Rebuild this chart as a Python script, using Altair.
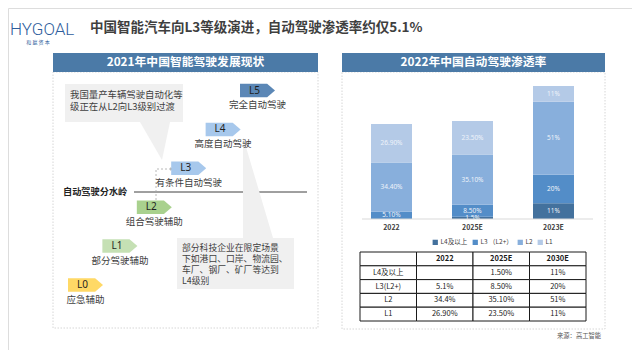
import altair as alt
import pandas as pd

FONT = "Noto Sans CJK SC"

# ---------------- data ----------------
years = ["2022", "2025E", "2030E"]
year_ticks = ["2022", "2025E", "2023E"]
segments = ["L4及以上", "L3 （L2+）", "L2", "L1"]
seg_values = [
    [0, 1.5, 11],
    [5.1, 8.5, 20],
    [34.4, 35.1, 51],
    [26.9, 23.5, 11],
]
seg_labels = [
    ["", "1.5%", "11%"],
    ["5.10%", "8.50%", "20%"],
    ["34.40%", "35.10%", "51%"],
    ["26.90%", "23.50%", "11%"],
]
table_header = ["", "2022", "2025E", "2030E"]
table_rows = ["L4及以上", "L3(L2+)", "L2", "L1"]
table_cells = [
    ["", "1.50%", "11%"],
    ["5.1%", "8.50%", "20%"],
    ["34.4%", "35.10%", "51%"],
    ["26.90%", "23.50%", "11%"],
]
levels = ["L0", "L1", "L2", "L3", "L4", "L5"]
level_names = ["应急辅助", "部分驾驶辅助", "组合驾驶辅助", "有条件自动驾驶", "高度自动驾驶", "完全自动驾驶"]
callout_top = ["我国量产车辆驾驶自动化等", "级正在从L2向L3级别过渡"]
callout_bottom = ["部分科技企业在限定场景", "下如港口、口岸、物流园、", "车厂、钢厂、矿厂等达到", "L4级别"]

# ---------------- styles ----------------
seg_colors = ["#43719d", "#538dc8", "#88afdc", "#b4cae7"]
level_colors = ["#ffd966", "#c5e0b4", "#a9d18e", "#a7c8ec", "#a7c8ec", "#5b87b6"]
HEAD = "#4b7aa7"

# image-pixel helper scales (page margin 8px)
PX = alt.Scale(domain=[0, 640], range=[-8, 632])
PY = alt.Scale(domain=[0, 358], range=[-8, 350])


def X(f="x"):
    return alt.X(f"{f}:Q", scale=PX, axis=None)


def Y(f="y"):
    return alt.Y(f"{f}:Q", scale=PY, axis=None)


def texts(rows, **kw):
    df = pd.DataFrame(rows, columns=["x", "y", "t"])
    return alt.Chart(df).mark_text(**kw).encode(x=X(), y=Y(), text="t:N")


# ---------------- decorations ----------------
fills = pd.DataFrame([
    dict(x=53, x2=318, y=53, y2=72, c=HEAD),
    dict(x=342, x2=605, y=53, y2=72, c=HEAD),
    dict(x=65, x2=183, y=84, y2=122, c="#f0f0f0"),
    dict(x=177, x2=294, y=238, y2=289, c="#f0f0f0"),
])
fill_layer = alt.Chart(fills).mark_rect().encode(
    x=X(), x2="x2", y=Y(), y2="y2", color=alt.Color("c:N", scale=None, legend=None))

borders = pd.DataFrame([
    dict(x=53, x2=318, y=72, y2=328),
    dict(x=342, x2=605, y=72, y2=329),
])
border_layer = alt.Chart(borders).mark_rect(
    filled=False, stroke="#d6d6d6", strokeWidth=1, strokeDash=[1.5, 1.5]).encode(
    x=X(), x2="x2", y=Y(), y2="y2")

tri1 = alt.Chart(pd.DataFrame([dict(y=122, x=140, x2=170), dict(y=160, x=162, x2=162)])).mark_area(
    orient="horizontal", color="#f0f0f0").encode(y=Y(), x=X(), x2="x2")
tri2 = alt.Chart(pd.DataFrame([dict(x=243, y=137, y2=238), dict(x=273, y=238, y2=238)])).mark_area(
    orient="vertical", color="#f0f0f0").encode(x=X(), y=Y(), y2="y2")

water_line = alt.Chart(pd.DataFrame([dict(x=134, x2=307, y=192)])).mark_rule(
    color="#404040", strokeWidth=1).encode(x=X(), x2="x2", y=Y())

dash_path = alt.Chart(pd.DataFrame([dict(o=0, x=156, y=204), dict(o=1, x=156, y=169), dict(o=2, x=172, y=169)])).mark_line(
    color="#a6a6a6", strokeWidth=0.8, strokeDash=[2, 2]).encode(x=X(), y=Y(), order="o:Q")
dash_head = alt.Chart(pd.DataFrame([dict(x=172, y=169)])).mark_point(
    shape="triangle-right", size=14, filled=True, color="#a6a6a6", opacity=1).encode(x=X(), y=Y())

logo = texts([(10, 30, "HYGOAL")], font="Roboto", fontSize=17, fontWeight=300, color="#2e5d9c", align="left")
logo_cn = texts([(38, 42, "和   赢   资   本")], font=FONT, fontSize=5, color="#2e5d9c")
title = texts([(90, 28, "中国智能汽车向L3等级演进，自动驾驶渗透率约仅5.1%")],
              font=FONT, fontSize=13.5, fontWeight="bold", color="#3f3f3f", align="left")
heads = texts([(185.5, 62, "2021年中国智能驾驶发展现状"), (473.5, 62, "2022年中国自动驾驶渗透率")],
              font=FONT, fontSize=11.8, fontWeight="bold", color="white")
water_txt = texts([(63, 192, "自动驾驶分水岭")], font=FONT, fontSize=9.2, fontWeight="bold",
                  color="#222222", align="left")
c1 = texts([(70, 95 + 11.7 * i, s) for i, s in enumerate(callout_top)],
           font=FONT, fontSize=9.4, color="#404040", align="left")
c2 = texts([(182, 248 + 11 * i, s) for i, s in enumerate(callout_bottom)],
           font=FONT, fontSize=8.8, color="#404040", align="left")
source = texts([(557, 336, "来源：高工智能")], font=FONT, fontSize=6.3, color="#595959", align="left")

# ---------------- levels diagram ----------------
df_lv = pd.DataFrame({"i": list(range(len(levels))), "lv": levels, "name": level_names})
lx = alt.X("i:Q", scale=alt.Scale(domain=[0, 5], range=[77.5, 249.5]), axis=None)
ly = alt.Y("i:Q", scale=alt.Scale(domain=[0, 5], range=[277, 82.5]), axis=None)
ARROW = "M-1,-0.386L0.55,-0.386L1,0L0.55,0.386L-1,0.386Z"
lv_boxes = alt.Chart(df_lv).mark_point(shape=ARROW, size=1225, filled=True, opacity=1, strokeWidth=0).encode(
    x=lx, y=ly, color=alt.Color("lv:N", scale=alt.Scale(domain=levels, range=level_colors), legend=None))
lv_txt = alt.Chart(df_lv).mark_text(font="Noto Sans", fontSize=10, dx=-3, color="#1f1f1f").encode(
    x=lx, y=ly, text="lv:N")
lv_name = alt.Chart(df_lv).mark_text(font=FONT, fontSize=9.5, dy=14.5, color="#404040").encode(
    x=lx, y=ly, text="name:N")

# ---------------- stacked bars ----------------
rows = []
for si, seg in enumerate(segments):
    for yi, yr in enumerate(years):
        rows.append(dict(year=yr, seg=seg, ord=si, value=seg_values[si][yi], lab=seg_labels[si][yi]))
df_bar = pd.DataFrame(rows)
df_ticks = pd.DataFrame({"year": years, "tick": year_ticks})

xb = alt.X("year:N", scale=alt.Scale(domain=years, range=[343, 586], paddingInner=0.494, paddingOuter=0.247),
           axis=None)
yb = alt.Scale(domain=[0, 100], range=[211, 68])

bars = alt.Chart(df_bar).mark_bar().encode(
    x=xb,
    y=alt.Y("value:Q", stack="zero", scale=yb, axis=None),
    color=alt.Color("seg:N", scale=alt.Scale(domain=segments, range=seg_colors),
                    legend=alt.Legend(title=None, orient="none", legendX=424, legendY=231,
                                      direction="horizontal", symbolType="square", symbolSize=28,
                                      symbolStrokeWidth=0, labelFont=FONT, labelFontSize=6.5,
                                      labelColor="#404040", columnPadding=4, labelOffset=2, padding=0)),
    order=alt.Order("ord:Q", sort="ascending"),
)
bar_lab = alt.Chart(df_bar).transform_filter("datum.lab != ''").transform_stack(
    stack="value", groupby=["year"], sort=[alt.SortField("ord", order="ascending")], as_=["v0", "v1"]
).transform_calculate(mid="(datum.v0 + datum.v1) / 2").mark_text(
    font="Noto Sans", fontSize=6.5, color="#eef3fa").encode(
    x=xb, y=alt.Y("mid:Q", scale=yb, axis=None), text="lab:N")
baseline = alt.Chart(pd.DataFrame([dict(x=362, x2=593, y=219)])).mark_rule(
    color="#d9d9d9", strokeWidth=1).encode(x=X(), x2="x2", y=Y())
ticks = alt.Chart(df_ticks).mark_text(font=FONT, fontSize=7, fontWeight="bold", color="#404040").encode(
    x=xb, y=alt.value(228 - 8), text="tick:N")

# ---------------- table ----------------
ckeys = ["c0", "c1", "c2", "c3"]
rkeys = ["r0", "r1", "r2", "r3", "r4"]
cells = []
for ci, h in enumerate(table_header):
    cells.append(dict(c=ckeys[ci], r="r0", t=h))
for ri, rn in enumerate(table_rows):
    cells.append(dict(c="c0", r=rkeys[ri + 1], t=rn))
    for ci, v in enumerate(table_cells[ri]):
        cells.append(dict(c=ckeys[ci + 1], r=rkeys[ri + 1], t=v))
df_tab = pd.DataFrame(cells)
tx = alt.X("c:N", scale=alt.Scale(domain=ckeys, range=[352, 578], paddingInner=0, paddingOuter=0), axis=None)
ty = alt.Y("r:N", scale=alt.Scale(domain=rkeys, range=[244, 313], paddingInner=0, paddingOuter=0), axis=None)
tab_rect = alt.Chart(df_tab).mark_rect(fill="white", stroke="#1a1a1a", strokeWidth=1).encode(x=tx, y=ty)
tab_head = alt.Chart(df_tab).transform_filter("datum.r == 'r0'").mark_text(
    font=FONT, fontSize=7.5, fontWeight="bold", color="#1a1a1a").encode(x=tx, y=ty, text="t:N")
tab_body = alt.Chart(df_tab).transform_filter("datum.r != 'r0'").mark_text(
    font=FONT, fontSize=7.5, color="#1a1a1a").encode(x=tx, y=ty, text="t:N")

chart = alt.layer(
    border_layer, fill_layer, tri1, water_line, tri2, dash_path, dash_head,
    logo, logo_cn, title, heads, water_txt, c1, c2, source,
    lv_boxes, lv_txt, lv_name,
    bars, bar_lab, baseline, ticks,
    tab_rect, tab_head, tab_body,
).resolve_scale(x="independent", y="independent", color="independent").properties(
    width=624, height=342, padding=0, autosize=alt.AutoSizeParams(type="none")
).configure_view(strokeWidth=0).configure(background="white")

chart.save("out.html", embed_options={"renderer": "svg", "actions": False})
